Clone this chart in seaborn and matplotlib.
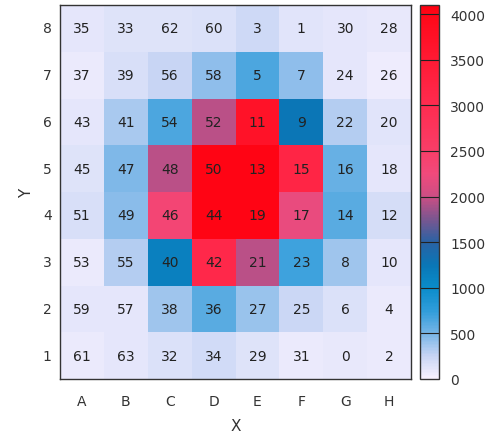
import numpy as np
import pandas as pd
import matplotlib
matplotlib.use("Agg")
import matplotlib.pyplot as plt
import seaborn as sns
from matplotlib.colors import LinearSegmentedColormap

# Grid axes
x_labels = ["A", "B", "C", "D", "E", "F", "G", "H"]
y_labels = ["8", "7", "6", "5", "4", "3", "2", "1"]  # top row first

# Cell index printed in each cell (rows from Y=8 down to Y=1)
cell_ids = [
    [35, 33, 62, 60, 3, 1, 30, 28],
    [37, 39, 56, 58, 5, 7, 24, 26],
    [43, 41, 54, 52, 11, 9, 22, 20],
    [45, 47, 48, 50, 13, 15, 16, 18],
    [51, 49, 46, 44, 19, 17, 14, 12],
    [53, 55, 40, 42, 21, 23, 8, 10],
    [59, 57, 38, 36, 27, 25, 6, 4],
    [61, 63, 32, 34, 29, 31, 0, 2],
]

# Measured intensity of each cell
intensity = [
    [110, 130, 130, 150, 220, 120, 110, 90],
    [80, 170, 250, 420, 650, 420, 110, 50],
    [100, 350, 650, 1950, 3700, 1250, 320, 120],
    [130, 480, 1950, 4050, 4050, 3200, 550, 110],
    [170, 440, 2350, 4050, 4050, 2200, 600, 180],
    [80, 320, 1150, 3100, 1950, 700, 380, 110],
    [100, 110, 380, 600, 400, 230, 160, 80],
    [80, 110, 150, 200, 130, 80, 90, 70],
]

cbar_ticks = [0, 500, 1000, 1500, 2000, 2500, 3000, 3500, 4000]
vmax = 4100

df = pd.DataFrame(intensity, index=y_labels, columns=x_labels)
ids = np.array(cell_ids).astype(str)

stops = [
    (0, "#f8f2ff"), (250, "#c6d4f4"), (500, "#74b4e6"), (750, "#2e9cda"),
    (1000, "#0a8cca"), (1250, "#0a76b6"), (1500, "#2a62a4"), (1750, "#7a5690"),
    (2000, "#cc4e84"), (2250, "#f04a7c"), (2500, "#f83e68"), (3000, "#ff2c50"),
    (3500, "#ff1a34"), (4000, "#ff0818"), (4100, "#ff0010"),
]
cmap = LinearSegmentedColormap.from_list(
    "heat", [(v / vmax, c) for v, c in stops])

sns.set_style("white")
plt.rcParams["font.family"] = ["DejaVu Sans"]

fig = plt.figure(figsize=(5.02, 4.39), dpi=100)
ax = fig.add_axes([60 / 502, 1 - 380 / 439, 351 / 502, 374 / 439])
cax = fig.add_axes([420 / 502, 1 - 380 / 439, 19 / 502, 374 / 439])

sns.heatmap(df, ax=ax, cbar_ax=cax, cmap=cmap, vmin=0, vmax=vmax,
            annot=ids, fmt="", annot_kws={"fontsize": 10, "color": "#222222"},
            cbar_kws={"ticks": cbar_ticks})

for s in ax.spines.values():
    s.set_visible(True)
    s.set_linewidth(1.0)
    s.set_color("#333333")

ax.tick_params(length=0, labelsize=10, labelcolor="#333333")
ax.tick_params(axis="y", pad=6)
ax.tick_params(axis="x", pad=11)
ax.set_yticklabels(y_labels, rotation=0)
ax.set_xticklabels(x_labels, rotation=0)
ax.set_xlabel("X", fontsize=11, color="#333333", labelpad=7)
ax.set_ylabel("Y", fontsize=11, color="#333333", labelpad=6)

cb = ax.collections[0].colorbar
cb.outline.set_visible(True)
cb.outline.set_linewidth(1.0)
cb.outline.set_edgecolor("#333333")
cax.tick_params(length=0, labelsize=10, labelcolor="#333333", pad=8)
for t in cbar_ticks[1:]:
    cax.axhline(t, color="#222222", linewidth=0.8)

fig.savefig("out.png", dpi=100)
